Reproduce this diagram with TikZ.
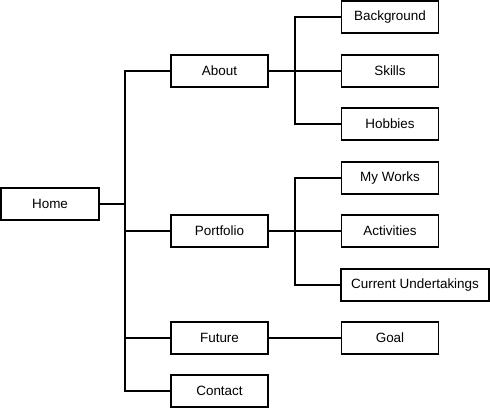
\documentclass[tikz,border=0pt]{standalone}
\usepackage{fontspec}
\setmainfont{Liberation Sans}
\begin{document}
\begin{tikzpicture}[x=1bp,y=-1bp,
  box/.style={draw=black,line width=1.7bp,fill=white,minimum width=97bp,minimum height=32bp,inner sep=0pt,font=\fontsize{13.5}{16}\selectfont},
  link/.style={draw=black,line width=1.7bp}]
\useasboundingbox (0,0) rectangle (490,410);
% level 0
\node[box,minimum width=98bp] (home) at (50,204) {Home};
% level 1
\node[box] (about) at (219.5,71) {About};
\node[box] (portfolio) at (219.5,231) {Portfolio};
\node[box] (future) at (219.5,338) {Future};
\node[box] (contact) at (219.5,391) {Contact};
% level 2
\node[box] (background) at (390,17) {Background};
\node[box] (skills) at (390,71) {Skills};
\node[box] (hobbies) at (390,124) {Hobbies};
\node[box] (works) at (390,178) {My Works};
\node[box] (activities) at (390,231) {Activities};
\node[box,minimum width=148bp] (current) at (415,285) {Current Undertakings};
\node[box] (goal) at (390,338) {Goal};
% bus coordinates
\coordinate (hb) at (125,204);
\coordinate (ab) at (295,71);
\coordinate (pb) at (295,231);
% connectors
\draw[link] (home.east) -- (hb);
\draw[link] (about.west) -| (hb) |- (contact.west);
\draw[link] (portfolio.west) -- (portfolio.west -| hb);
\draw[link] (future.west) -- (future.west -| hb);
\draw[link] (about.east) -- (skills.west);
\draw[link] (background.west) -| (ab) |- (hobbies.west);
\draw[link] (portfolio.east) -- (activities.west);
\draw[link] (works.west) -| (pb) |- (current.west);
\draw[link] (future.east) -- (goal.west);
\end{tikzpicture}
\end{document}
